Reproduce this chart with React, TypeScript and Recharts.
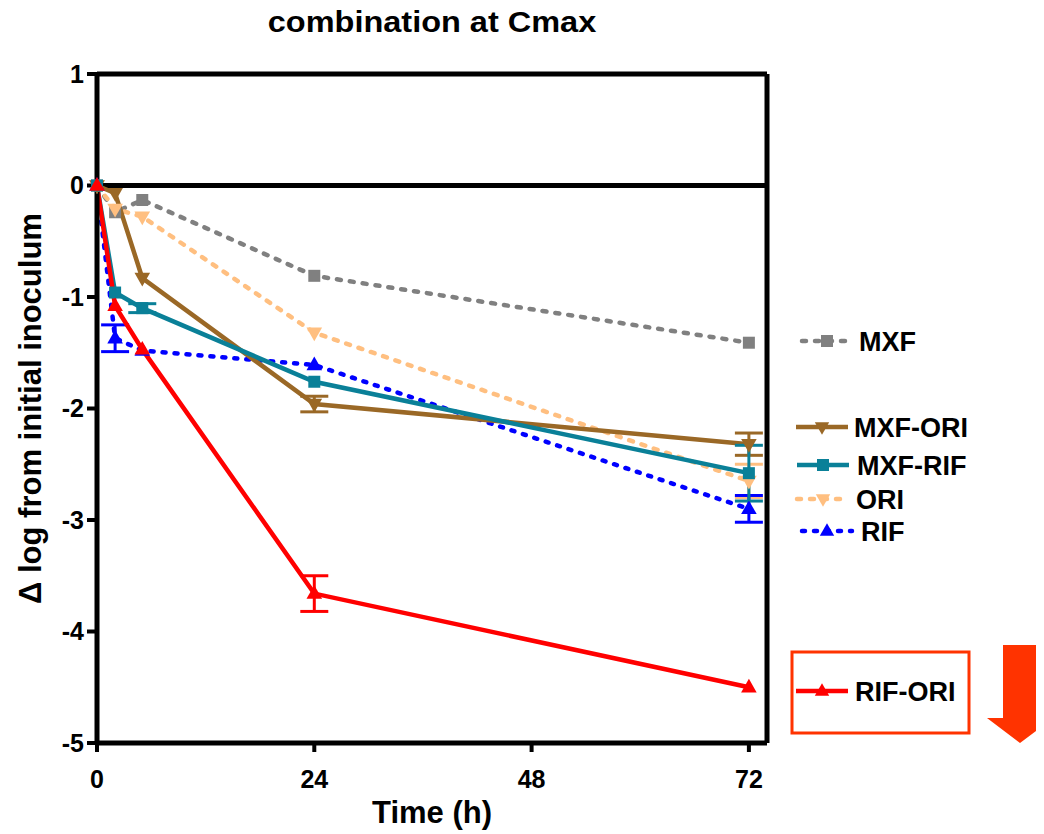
import React from "react";
import {
  LineChart,
  Line,
  XAxis,
  YAxis,
  ReferenceLine,
  ErrorBar,
} from "recharts";

// ---- data ----
const times = [0, 2, 5, 24, 72];
const mxf = [0, -0.24, -0.13, -0.81, -1.41];
const mxfOri = [0, -0.07, -0.83, -1.96, -2.32];
const mxfRif = [0, -0.96, -1.1, -1.76, -2.58];
const ori = [0, -0.21, -0.28, -1.32, -2.65];
const rif = [0, -1.37, -1.48, -1.61, -2.9];
const rifOri = [0, -1.08, -1.47, -3.66, -4.5];

// standard deviations (null = bar hidden behind the symbol)
const mxfErr = [null, null, null, null, null];
const mxfOriErr = [null, null, null, 0.07, 0.1];
const mxfRifErr = [null, null, 0.04, null, 0.25];
const oriErr = [null, null, null, null, 0.15];
const rifErr = [null, 0.12, null, null, 0.12];
const rifOriErr = [null, null, null, 0.16, null];

const xTicks = [0, 24, 48, 72];
const yTicks = [-5, -4, -3, -2, -1, 0, 1];

const titleText = "combination at Cmax";
const xLabel = "Time (h)";
const yLabel = "\u0394 log from initial inoculum";

const data = times.map((t, i) => ({
  t,
  mxf: mxf[i],
  mxfOri: mxfOri[i],
  mxfRif: mxfRif[i],
  ori: ori[i],
  rif: rif[i],
  rifOri: rifOri[i],
  mxfErr: mxfErr[i],
  mxfOriErr: mxfOriErr[i],
  mxfRifErr: mxfRifErr[i],
  oriErr: oriErr[i],
  rifErr: rifErr[i],
  rifOriErr: rifOriErr[i],
}));

const C = {
  mxf: "#808080",
  mxfOri: "#9A6826",
  mxfRif: "#0A8098",
  ori: "#FFBF80",
  rif: "#0000FF",
  rifOri: "#FF0000",
  accent: "#FF3300",
};

const FONT = "'Liberation Sans', Arial, Helvetica, sans-serif";

type Shape = "square" | "up" | "down";

function markerPath(shape: Shape, cx: number, cy: number, s: number) {
  if (shape === "square") {
    const h = s / 2;
    return `M${cx - h},${cy - h}H${cx + h}V${cy + h}H${cx - h}Z`;
  }
  const w = s * 1.2;
  const ht = s * 1.05;
  if (shape === "up") {
    return `M${cx},${cy - ht * 0.62}L${cx + w / 2},${cy + ht * 0.38}L${cx - w / 2},${cy + ht * 0.38}Z`;
  }
  return `M${cx},${cy + ht * 0.62}L${cx + w / 2},${cy - ht * 0.38}L${cx - w / 2},${cy - ht * 0.38}Z`;
}

const makeDot = (name: string, shape: Shape, color: string, size: number) => (props: any) => {
  const { cx, cy, index } = props;
  if (cx == null || cy == null) return <g key={`${name}-${index}`} />;
  return <path key={`${name}-${index}`} d={markerPath(shape, cx, cy, size)} fill={color} stroke="none" />;
};

type Item = { label: string; color: string; shape: Shape; dash?: string; x1: number; x2: number; y: number; tx: number };

const legendItems: Item[] = [
  { label: "MXF", color: C.mxf, shape: "square", dash: "4 9", x1: 802, x2: 852, y: 341, tx: 859 },
  { label: "MXF-ORI", color: C.mxfOri, shape: "down", x1: 796, x2: 848, y: 427, tx: 854 },
  { label: "MXF-RIF", color: C.mxfRif, shape: "square", x1: 797, x2: 849, y: 465, tx: 857 },
  { label: "ORI", color: C.ori, shape: "down", dash: "4 9", x1: 797, x2: 849, y: 499, tx: 856 },
  { label: "RIF", color: C.rif, shape: "up", dash: "3 9", x1: 802, x2: 852, y: 531, tx: 861 },
  { label: "RIF-ORI", color: C.rifOri, shape: "up", x1: 796, x2: 848, y: 691, tx: 855 },
];

function Legend() {
  return (
    <svg
      width={264}
      height={470}
      style={{ position: "absolute", left: 772, top: 300, overflow: "hidden" }}
    >
      <g transform="translate(-780,-308)">
        {legendItems.map((it) => (
          <g key={it.label}>
            <line
              x1={it.x1}
              x2={it.x2}
              y1={it.y}
              y2={it.y}
              stroke={it.color}
              strokeWidth={4.5}
              strokeDasharray={it.dash}
              strokeLinecap={it.dash ? "round" : "butt"}
            />
            <path d={markerPath(it.shape, (it.x1 + it.x2) / 2, it.y, 12)} fill={it.color} />
            <text
              x={it.tx}
              y={it.y + 9.5}
              fontFamily={FONT}
              fontWeight="bold"
              fontSize={27}
              fill="#000"
            >
              {it.label}
            </text>
          </g>
        ))}
        <rect x={792} y={652} width={177} height={81} fill="none" stroke={C.accent} strokeWidth={3} />
        <path
          d="M1003,645 H1037 V718 H1053 L1020,743 L987,718 H1003 Z"
          fill={C.accent}
        />
      </g>
    </svg>
  );
}

const AX = "#000";

export default function App() {
  return (
    <div style={{ position: "relative", width: 1028, height: 826, fontFamily: FONT }}>
      <style>{"html{overflow:hidden}"}</style>
      <div
        style={{
          position: "absolute",
          left: 224,
          top: 0,
          width: 400,
          textAlign: "center",
          fontSize: 29,
          lineHeight: "29px",
          fontWeight: "bold",
          color: "#000",
          transform: "scaleX(1.12)",
        }}
      >
        {titleText}
      </div>
      <LineChart
        width={1028}
        height={826}
        data={data}
        margin={{ top: 66, right: 269, bottom: 11, left: 29 }}
      >
        <XAxis
          dataKey="t"
          type="number"
          domain={[0, 74]}
          ticks={xTicks}
          interval={0}
          height={80}
          axisLine={{ stroke: AX, strokeWidth: 5 }}
          tickLine={{ stroke: AX, strokeWidth: 4 }}
          tickSize={9}
          tickMargin={18}
          tick={{ fill: "#000", fontSize: 25, fontWeight: "bold", fontFamily: FONT }}
          label={{
            value: xLabel,
            position: "insideBottom",
            offset: 0,
            style: { fill: "#000", fontSize: 31, fontWeight: "bold", fontFamily: FONT },
          }}
        />
        <YAxis
          type="number"
          domain={[-5, 1]}
          ticks={yTicks}
          interval={0}
          width={60}
          axisLine={{ stroke: AX, strokeWidth: 5 }}
          tickLine={{ stroke: AX, strokeWidth: 4 }}
          tickSize={10}
          tickMargin={3}
          tick={{ fill: "#000", fontSize: 25, fontWeight: "bold", fontFamily: FONT }}
          label={{
            value: yLabel,
            angle: -90,
            position: "insideLeft",
            offset: -7,
            style: { fill: "#000", fontSize: 31, fontWeight: "bold", fontFamily: FONT, textAnchor: "middle" },
          }}
        />
        <ReferenceLine y={1} stroke={AX} strokeWidth={5} />
        <ReferenceLine y={0} stroke={AX} strokeWidth={5} />
        <ReferenceLine x={74} stroke={AX} strokeWidth={5} />

        <Line
          dataKey="mxf"
          stroke={C.mxf}
          strokeWidth={4.5}
          strokeDasharray="4 9"
          strokeLinecap="round"
          dot={makeDot("mxf", "square", C.mxf, 12)}
          activeDot={false}
          isAnimationActive={false}
        >
          <ErrorBar dataKey="mxfErr" direction="y" width={12} stroke={C.mxf} strokeWidth={3} />
        </Line>
        <Line
          dataKey="ori"
          stroke={C.ori}
          strokeWidth={4.5}
          strokeDasharray="4 9"
          strokeLinecap="round"
          dot={makeDot("ori", "down", C.ori, 13)}
          activeDot={false}
          isAnimationActive={false}
        >
          <ErrorBar dataKey="oriErr" direction="y" width={14} stroke={C.ori} strokeWidth={3} />
        </Line>
        <Line
          dataKey="rif"
          stroke={C.rif}
          strokeWidth={4.5}
          strokeDasharray="3 9"
          strokeLinecap="round"
          dot={makeDot("rif", "up", C.rif, 13)}
          activeDot={false}
          isAnimationActive={false}
        >
          <ErrorBar dataKey="rifErr" direction="y" width={14} stroke={C.rif} strokeWidth={3} />
        </Line>
        <Line
          dataKey="mxfOri"
          stroke={C.mxfOri}
          strokeWidth={4.5}
          dot={makeDot("mxfOri", "down", C.mxfOri, 13)}
          activeDot={false}
          isAnimationActive={false}
        >
          <ErrorBar dataKey="mxfOriErr" direction="y" width={14} stroke={C.mxfOri} strokeWidth={3} />
        </Line>
        <Line
          dataKey="mxfRif"
          stroke={C.mxfRif}
          strokeWidth={4.5}
          dot={makeDot("mxfRif", "square", C.mxfRif, 12)}
          activeDot={false}
          isAnimationActive={false}
        >
          <ErrorBar dataKey="mxfRifErr" direction="y" width={14} stroke={C.mxfRif} strokeWidth={3} />
        </Line>
        <Line
          dataKey="rifOri"
          stroke={C.rifOri}
          strokeWidth={4.5}
          dot={makeDot("rifOri", "up", C.rifOri, 13)}
          activeDot={false}
          isAnimationActive={false}
        >
          <ErrorBar dataKey="rifOriErr" direction="y" width={14} stroke={C.rifOri} strokeWidth={3} />
        </Line>
      </LineChart>
      <Legend />
    </div>
  );
}
